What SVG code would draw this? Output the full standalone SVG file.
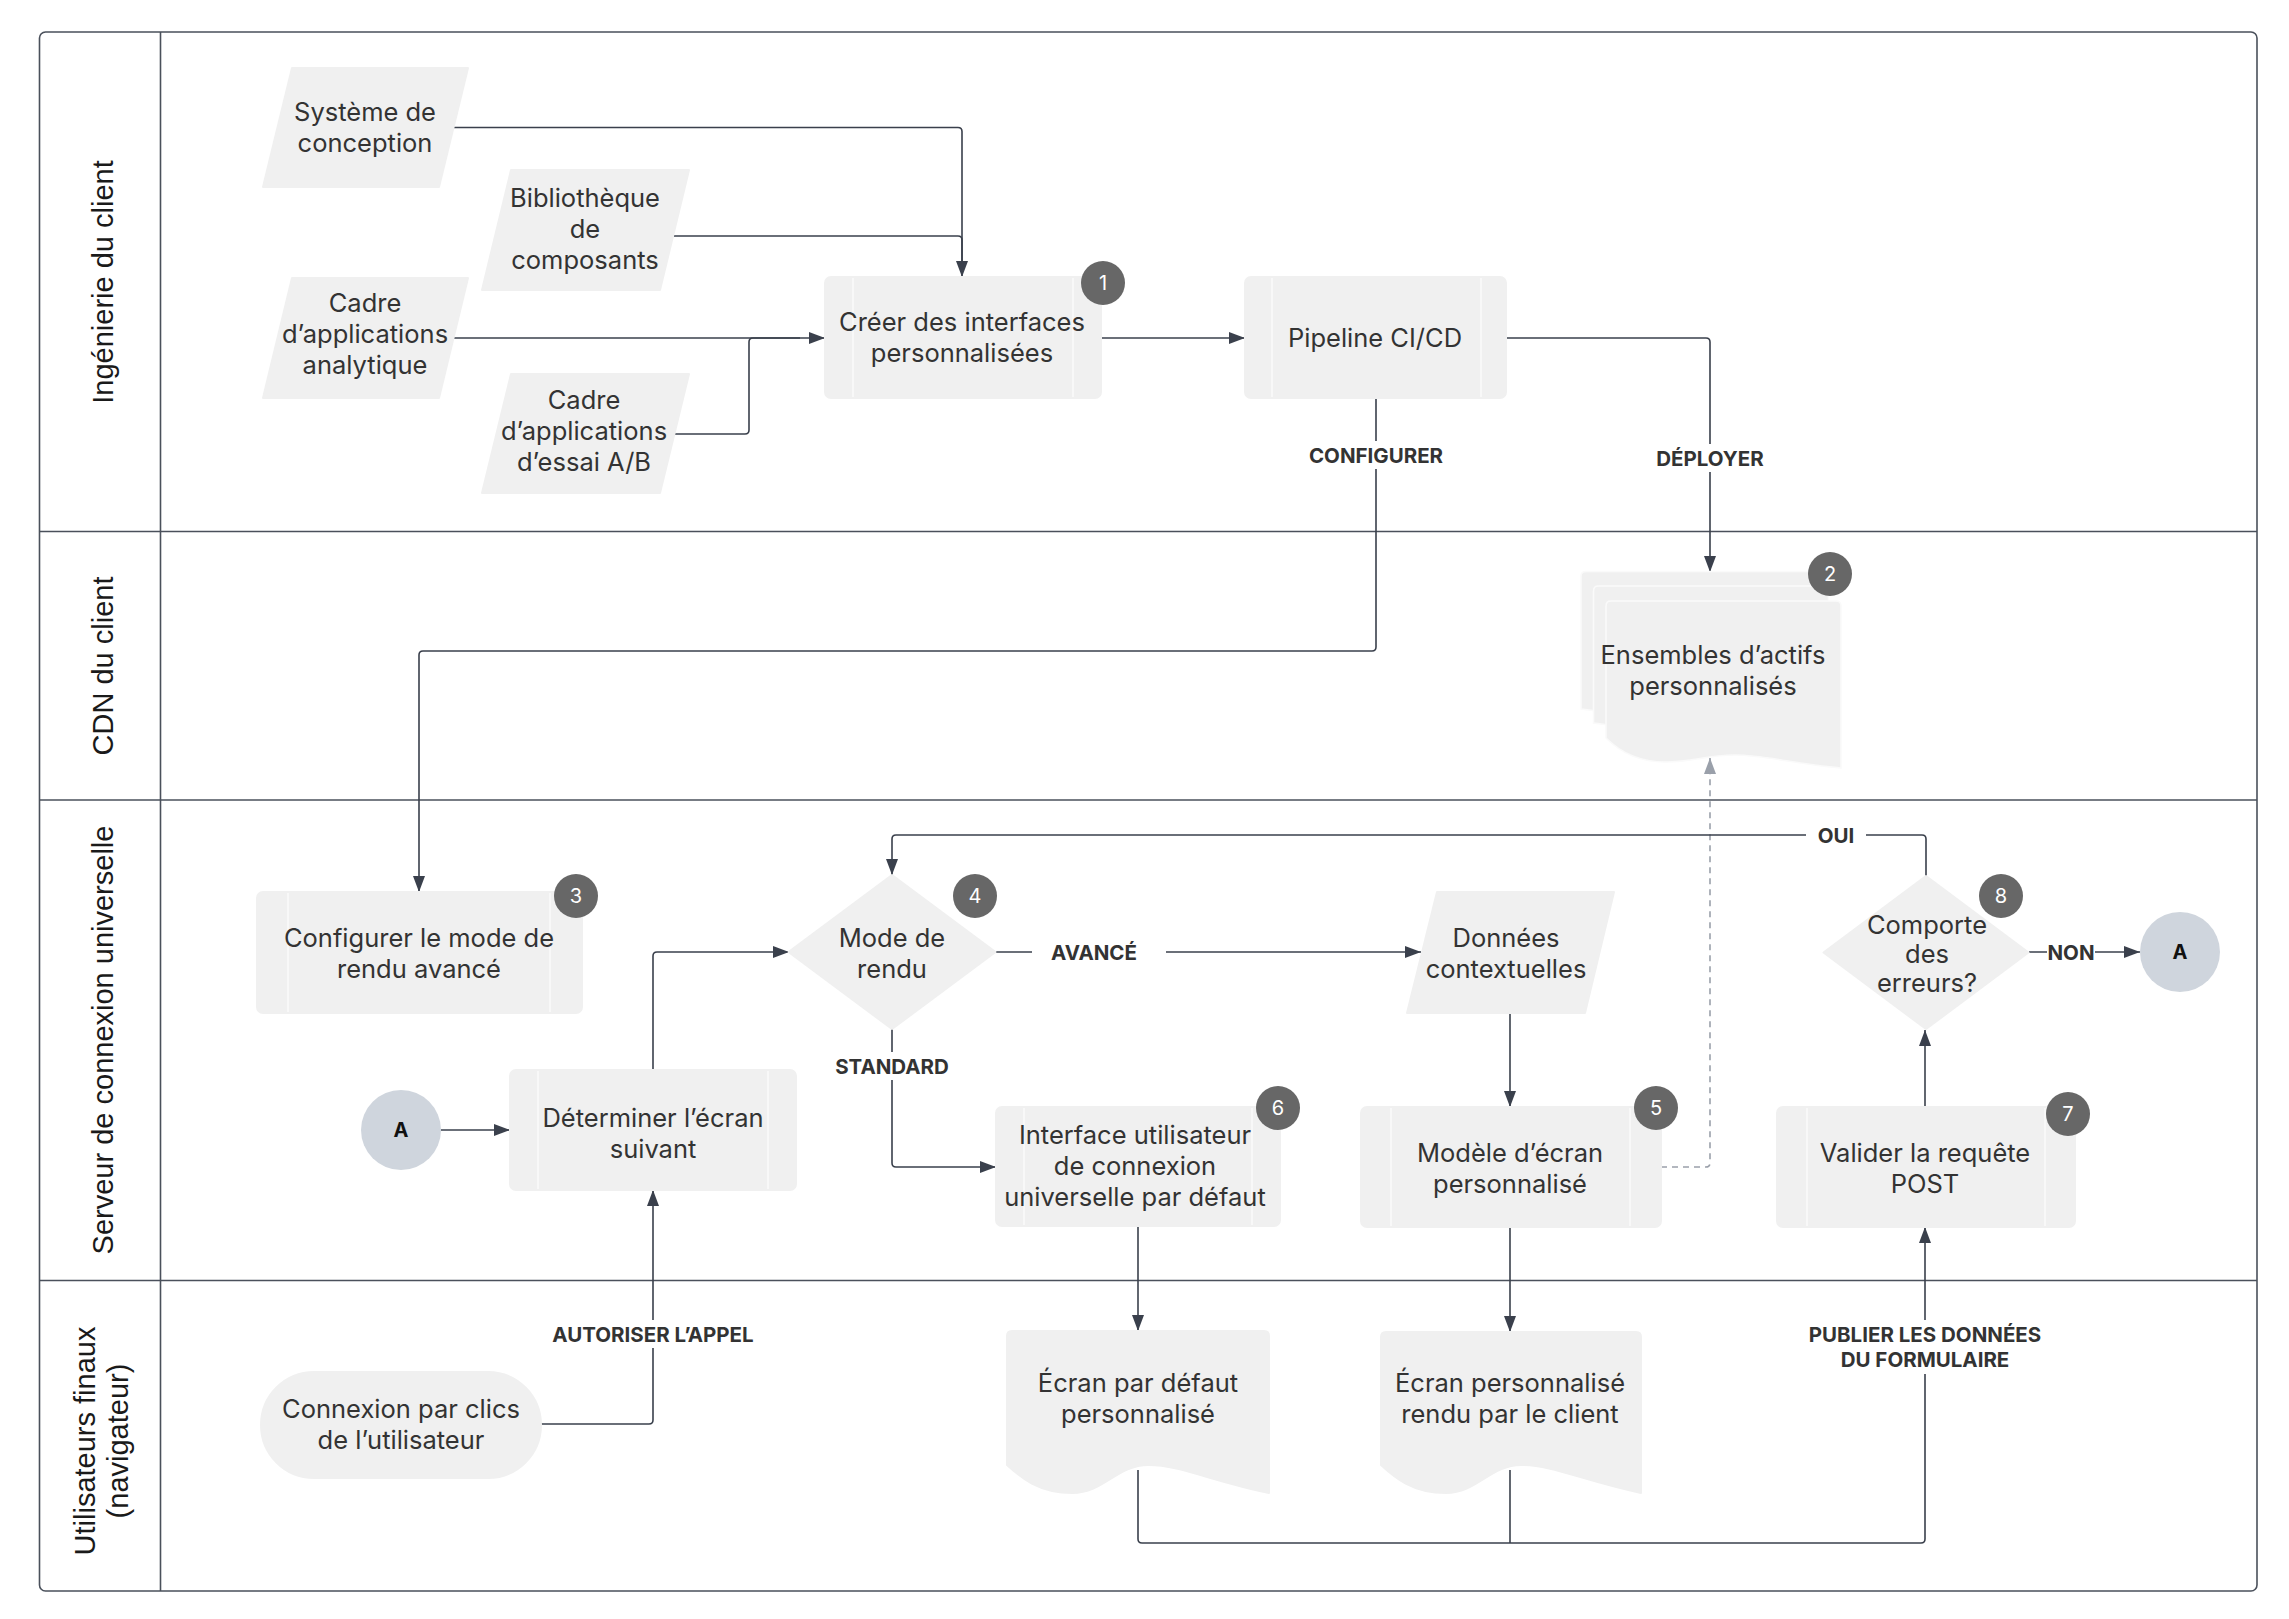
<svg xmlns="http://www.w3.org/2000/svg" width="2289" height="1619" viewBox="0 0 2289 1619">
<defs>
<style>
.lane{fill:none;stroke:#4a505b;stroke-width:1.6}
.lt{font-family:"Liberation Sans",Arial,sans-serif;font-size:29px;fill:#1a1a1a;text-anchor:middle}
.n{fill:#f0f0f0;stroke:#f0f0f0;stroke-width:2;stroke-linejoin:round}
.in{stroke:#fbfbfb;stroke-width:1.5}
.t{font-family:Inter,"Noto Sans",sans-serif;font-size:25.5px;fill:#333;text-anchor:middle;dominant-baseline:central}
.lb{font-family:Inter,"Noto Sans",sans-serif;font-size:20.5px;font-weight:700;fill:#333;text-anchor:middle;dominant-baseline:central}
.bg{fill:#fff}
.bd{fill:#676767}
.bt{font-family:Inter,"Noto Sans",sans-serif;font-size:20px;fill:#fff;text-anchor:middle;dominant-baseline:central}
.ca{fill:#cfd5dd}
.at{font-family:Inter,"Noto Sans",sans-serif;font-size:20px;font-weight:700;fill:#111;text-anchor:middle;dominant-baseline:central}
.c{fill:none;stroke:#3a404c;stroke-width:1.6}
.ca2{fill:none;stroke:#3a404c;stroke-width:1.6;marker-end:url(#ar)}
.d{fill:none;stroke:#9aa0aa;stroke-width:1.6;stroke-dasharray:6 5;marker-end:url(#arg)}
</style>
<marker id="ar" markerUnits="userSpaceOnUse" markerWidth="16" markerHeight="12" refX="16" refY="6" orient="auto"><path d="M0,0 L16,6 L0,12 Z" fill="#3a404c"/></marker>
<marker id="arg" markerUnits="userSpaceOnUse" markerWidth="16" markerHeight="12" refX="16" refY="6" orient="auto"><path d="M0,0 L16,6 L0,12 Z" fill="#9aa0aa"/></marker>
</defs>
<rect width="2289" height="1619" fill="#fff"/>

<g id="lanes">
<rect class="lane" x="39.5" y="32" width="2217.5" height="1559" rx="6" stroke="#6a707a" stroke-width="2"/>
<line class="lane" x1="160.5" y1="32" x2="160.5" y2="1591"/>
<line class="lane" x1="39.5" y1="531.5" x2="2257" y2="531.5"/>
<line class="lane" x1="39.5" y1="800" x2="2257" y2="800"/>
<line class="lane" x1="39.5" y1="1280.5" x2="2257" y2="1280.5"/>
<text class="lt" transform="translate(113,282) rotate(-90)">Ingénierie du client</text>
<text class="lt" transform="translate(113,666) rotate(-90)">CDN du client</text>
<text class="lt" transform="translate(113,1040) rotate(-90)">Serveur de connexion universelle</text>
<text class="lt" transform="translate(95,1441) rotate(-90)">Utilisateurs finaux</text>
<text class="lt" transform="translate(128,1441) rotate(-90)">(navigateur)</text>
</g>

<g id="connectors">
<path class="ca2" d="M454,127.5 H958 Q962,127.5 962,131.5 V277"/>
<path class="c" d="M674,236 H958 Q962,236 962,240 V262"/>
<path class="ca2" d="M454,338 H825"/>
<path class="c" d="M674,434 H745 Q749,434 749,430 V342 Q749,338 753,338 H800"/>
<path class="ca2" d="M1102,338 H1245"/>
<path class="ca2" d="M1376,398 V647 Q1376,651 1372,651 H423 Q419,651 419,655 V892"/>
<path class="ca2" d="M1506,338 H1706 Q1710,338 1710,342 V572"/>
<path class="ca2" d="M441,1130 H510"/>
<path class="ca2" d="M653,1070 V956 Q653,952 657,952 H789"/>
<path class="ca2" d="M540,1424 H649 Q653,1424 653,1420 V1190"/>
<path class="ca2" d="M995,952 H1421"/>
<path class="ca2" d="M892,1029 V1163 Q892,1167 896,1167 H996"/>
<path class="ca2" d="M1510,1013 V1107"/>
<path class="d" d="M1661,1167 H1706 Q1710,1167 1710,1163 V758"/>
<path class="ca2" d="M1510,1227 V1332"/>
<path class="ca2" d="M1138,1226 V1331"/>
<path class="ca2" d="M1138,1470 V1539 Q1138,1543 1142,1543 H1921 Q1925,1543 1925,1539 V1227"/>
<path class="c" d="M1510,1470 V1543"/>
<path class="ca2" d="M1925,1107 V1030"/>
<path class="ca2" d="M2029,952 H2140"/>
<path class="ca2" d="M1926,876 V839 Q1926,835 1922,835 H896 Q892,835 892,839 V875"/>
<rect class="bg" x="1304" y="441" width="144" height="28"/>
<text class="lb" x="1376" y="455">CONFIGURER</text>
<rect class="bg" x="1650" y="444" width="120" height="28"/>
<text class="lb" x="1710" y="458">DÉPLOYER</text>
<rect class="bg" x="1032" y="938" width="134" height="28"/>
<text class="lb" x="1094" y="952">AVANCÉ</text>
<rect class="bg" x="824" y="1052" width="136" height="28"/>
<text class="lb" x="892" y="1066">STANDARD</text>
<rect class="bg" x="542" y="1320" width="222" height="28"/>
<text class="lb" x="653" y="1334">AUTORISER L’APPEL</text>
<rect class="bg" x="1792" y="1320" width="266" height="54"/>
<text class="lb" x="1925" y="1334">PUBLIER LES DONNÉES</text>
<text class="lb" x="1925" y="1359">DU FORMULAIRE</text>
<rect class="bg" x="1806" y="821" width="60" height="28"/>
<text class="lb" x="1836" y="835">OUI</text>
<rect class="bg" x="2047" y="940" width="48" height="24"/>
<text class="lb" x="2071" y="952">NON</text>
</g>

<g id="n-systeme">
<path class="n" d="M292,68 H468 L439,187 H263 Z"/>
<text class="t" x="365" y="111.5">Système de</text>
<text class="t" x="365" y="142.5">conception</text>
</g>
<g id="n-biblio">
<path class="n" d="M511,170 H689 L660,290 H482 Z"/>
<text class="t" x="585" y="197">Bibliothèque</text>
<text class="t" x="585" y="228">de</text>
<text class="t" x="585" y="259">composants</text>
</g>
<g id="n-analytique">
<path class="n" d="M292,278 H468 L439,398 H263 Z"/>
<text class="t" x="365" y="302">Cadre</text>
<text class="t" x="365" y="333">d’applications</text>
<text class="t" x="365" y="364">analytique</text>
</g>
<g id="n-ab">
<path class="n" d="M511,374 H689 L660,493 H482 Z"/>
<text class="t" x="584" y="399">Cadre</text>
<text class="t" x="584" y="430">d’applications</text>
<text class="t" x="584" y="461">d’essai A/B</text>
</g>
<g id="n-creer">
<rect class="n" x="825" y="277" width="276" height="121" rx="6"/>
<line class="in" x1="853" y1="278" x2="853" y2="397"/>
<line class="in" x1="1073" y1="278" x2="1073" y2="397"/>
<text class="t" x="962" y="321">Créer des interfaces</text>
<text class="t" x="962" y="352">personnalisées</text>
<circle class="bd" cx="1103" cy="283" r="22"/><text class="bt" x="1103" y="283">1</text>
</g>
<g id="n-pipeline">
<rect class="n" x="1245" y="277" width="261" height="121" rx="6"/>
<line class="in" x1="1272" y1="278" x2="1272" y2="397"/>
<line class="in" x1="1481" y1="278" x2="1481" y2="397"/>
<text class="t" x="1375" y="337">Pipeline CI/CD</text>
</g>
<g id="n-ensembles">
<path d="M1581,576 Q1581,571.5 1586,571.5 H1811 Q1816,571.5 1816,576 V738 L1581,709 Z" fill="#f0f0f0" stroke="#fafafa" stroke-width="1.5"/>
<path d="M1593.5,591 Q1593.5,586 1598.5,586 H1823.5 Q1828.5,586 1828.5,591 V753 L1593.5,723 Z" fill="#f0f0f0" stroke="#fafafa" stroke-width="1.5"/>
<path d="M1606,606 Q1606,601 1611,601 H1836 Q1841,601 1841,606 V768 C1795,764 1765,755 1735,755 C1705,755 1695,762 1665,762 C1640,762 1620,752 1606,738 Z" fill="#f0f0f0" stroke="#fafafa" stroke-width="1.5"/>
<text class="t" x="1713" y="654">Ensembles d’actifs</text>
<text class="t" x="1713" y="685">personnalisés</text>
<circle class="bd" cx="1830" cy="574" r="22"/><text class="bt" x="1830" y="574">2</text>
</g>
<g id="n-configurer">
<rect class="n" x="257" y="892" width="325" height="121" rx="6"/>
<line class="in" x1="288" y1="893" x2="288" y2="1012"/>
<line class="in" x1="550" y1="893" x2="550" y2="1012"/>
<text class="t" x="419" y="937">Configurer le mode de</text>
<text class="t" x="419" y="968">rendu avancé</text>
<circle class="bd" cx="576" cy="896" r="22"/><text class="bt" x="576" y="896">3</text>
</g>
<g id="n-mode">
<path class="n" d="M892,875 L995.5,952 L892,1029 L788.5,952 Z"/>
<text class="t" x="892" y="937">Mode de</text>
<text class="t" x="892" y="968">rendu</text>
<circle class="bd" cx="975" cy="896" r="22"/><text class="bt" x="975" y="896">4</text>
</g>
<g id="n-donnees">
<path class="n" d="M1437,892 H1614 L1585,1013 H1407 Z"/>
<text class="t" x="1506" y="937">Données</text>
<text class="t" x="1506" y="968">contextuelles</text>
</g>
<g id="n-a-left">
<circle class="ca" cx="401" cy="1130" r="40"/>
<text class="at" x="401" y="1130">A</text>
</g>
<g id="n-determiner">
<rect class="n" x="510" y="1070" width="286" height="120" rx="6"/>
<line class="in" x1="538" y1="1071" x2="538" y2="1189"/>
<line class="in" x1="768" y1="1071" x2="768" y2="1189"/>
<text class="t" x="653" y="1117">Déterminer l’écran</text>
<text class="t" x="653" y="1148">suivant</text>
</g>
<g id="n-interface">
<rect class="n" x="996" y="1107" width="284" height="119" rx="6"/>
<line class="in" x1="1024" y1="1108" x2="1024" y2="1225"/>
<line class="in" x1="1252" y1="1108" x2="1252" y2="1225"/>
<text class="t" x="1135" y="1134">Interface utilisateur</text>
<text class="t" x="1135" y="1165">de connexion</text>
<text class="t" x="1135" y="1196">universelle par défaut</text>
<circle class="bd" cx="1278" cy="1108" r="22"/><text class="bt" x="1278" y="1108">6</text>
</g>
<g id="n-modele">
<rect class="n" x="1361" y="1107" width="300" height="120" rx="6"/>
<line class="in" x1="1391" y1="1108" x2="1391" y2="1226"/>
<line class="in" x1="1630" y1="1108" x2="1630" y2="1226"/>
<text class="t" x="1510" y="1152">Modèle d’écran</text>
<text class="t" x="1510" y="1183">personnalisé</text>
<circle class="bd" cx="1656" cy="1108" r="22"/><text class="bt" x="1656" y="1108">5</text>
</g>
<g id="n-valider">
<rect class="n" x="1777" y="1107" width="298" height="120" rx="6"/>
<line class="in" x1="1807" y1="1108" x2="1807" y2="1226"/>
<line class="in" x1="2045" y1="1108" x2="2045" y2="1226"/>
<text class="t" x="1925" y="1152">Valider la requête</text>
<text class="t" x="1925" y="1183">POST</text>
<circle class="bd" cx="2068" cy="1114" r="22"/><text class="bt" x="2068" y="1114">7</text>
</g>
<g id="n-comporte">
<path class="n" d="M1926,876 L2028.5,952.5 L1926,1029 L1823.5,952.5 Z"/>
<text class="t" x="1927" y="924">Comporte</text>
<text class="t" x="1927" y="953">des</text>
<text class="t" x="1927" y="982">erreurs?</text>
<circle class="bd" cx="2001" cy="896" r="22"/><text class="bt" x="2001" y="896">8</text>
</g>
<g id="n-a-right">
<circle class="ca" cx="2180" cy="952" r="40"/>
<text class="at" x="2180" y="952">A</text>
</g>
<g id="n-connexion">
<rect class="n" x="261" y="1372" width="280" height="106" rx="53"/>
<text class="t" x="401" y="1408">Connexion par clics</text>
<text class="t" x="401" y="1439">de l’utilisateur</text>
</g>
<g id="n-ecran-defaut">
<path class="n" d="M1007,1336 Q1007,1331 1012,1331 H1264 Q1269,1331 1269,1336 V1493 C1211.4,1481 1179.9,1465 1148.5,1465 C1117,1465 1103.9,1493 1072.5,1493 C1038.4,1493 1020.1,1477 1007,1465 Z"/>
<text class="t" x="1138" y="1382">Écran par défaut</text>
<text class="t" x="1138" y="1413">personnalisé</text>
</g>
<g id="n-ecran-perso">
<path class="n" d="M1381,1337 Q1381,1332 1386,1332 H1636 Q1641,1332 1641,1337 V1493 C1583.8,1481 1552.6,1465 1521.4,1465 C1490.2,1465 1477.2,1493 1446,1493 C1412.2,1493 1394,1477 1381,1465 Z"/>
<text class="t" x="1510" y="1382">Écran personnalisé</text>
<text class="t" x="1510" y="1413">rendu par le client</text>
</g>
</svg>
